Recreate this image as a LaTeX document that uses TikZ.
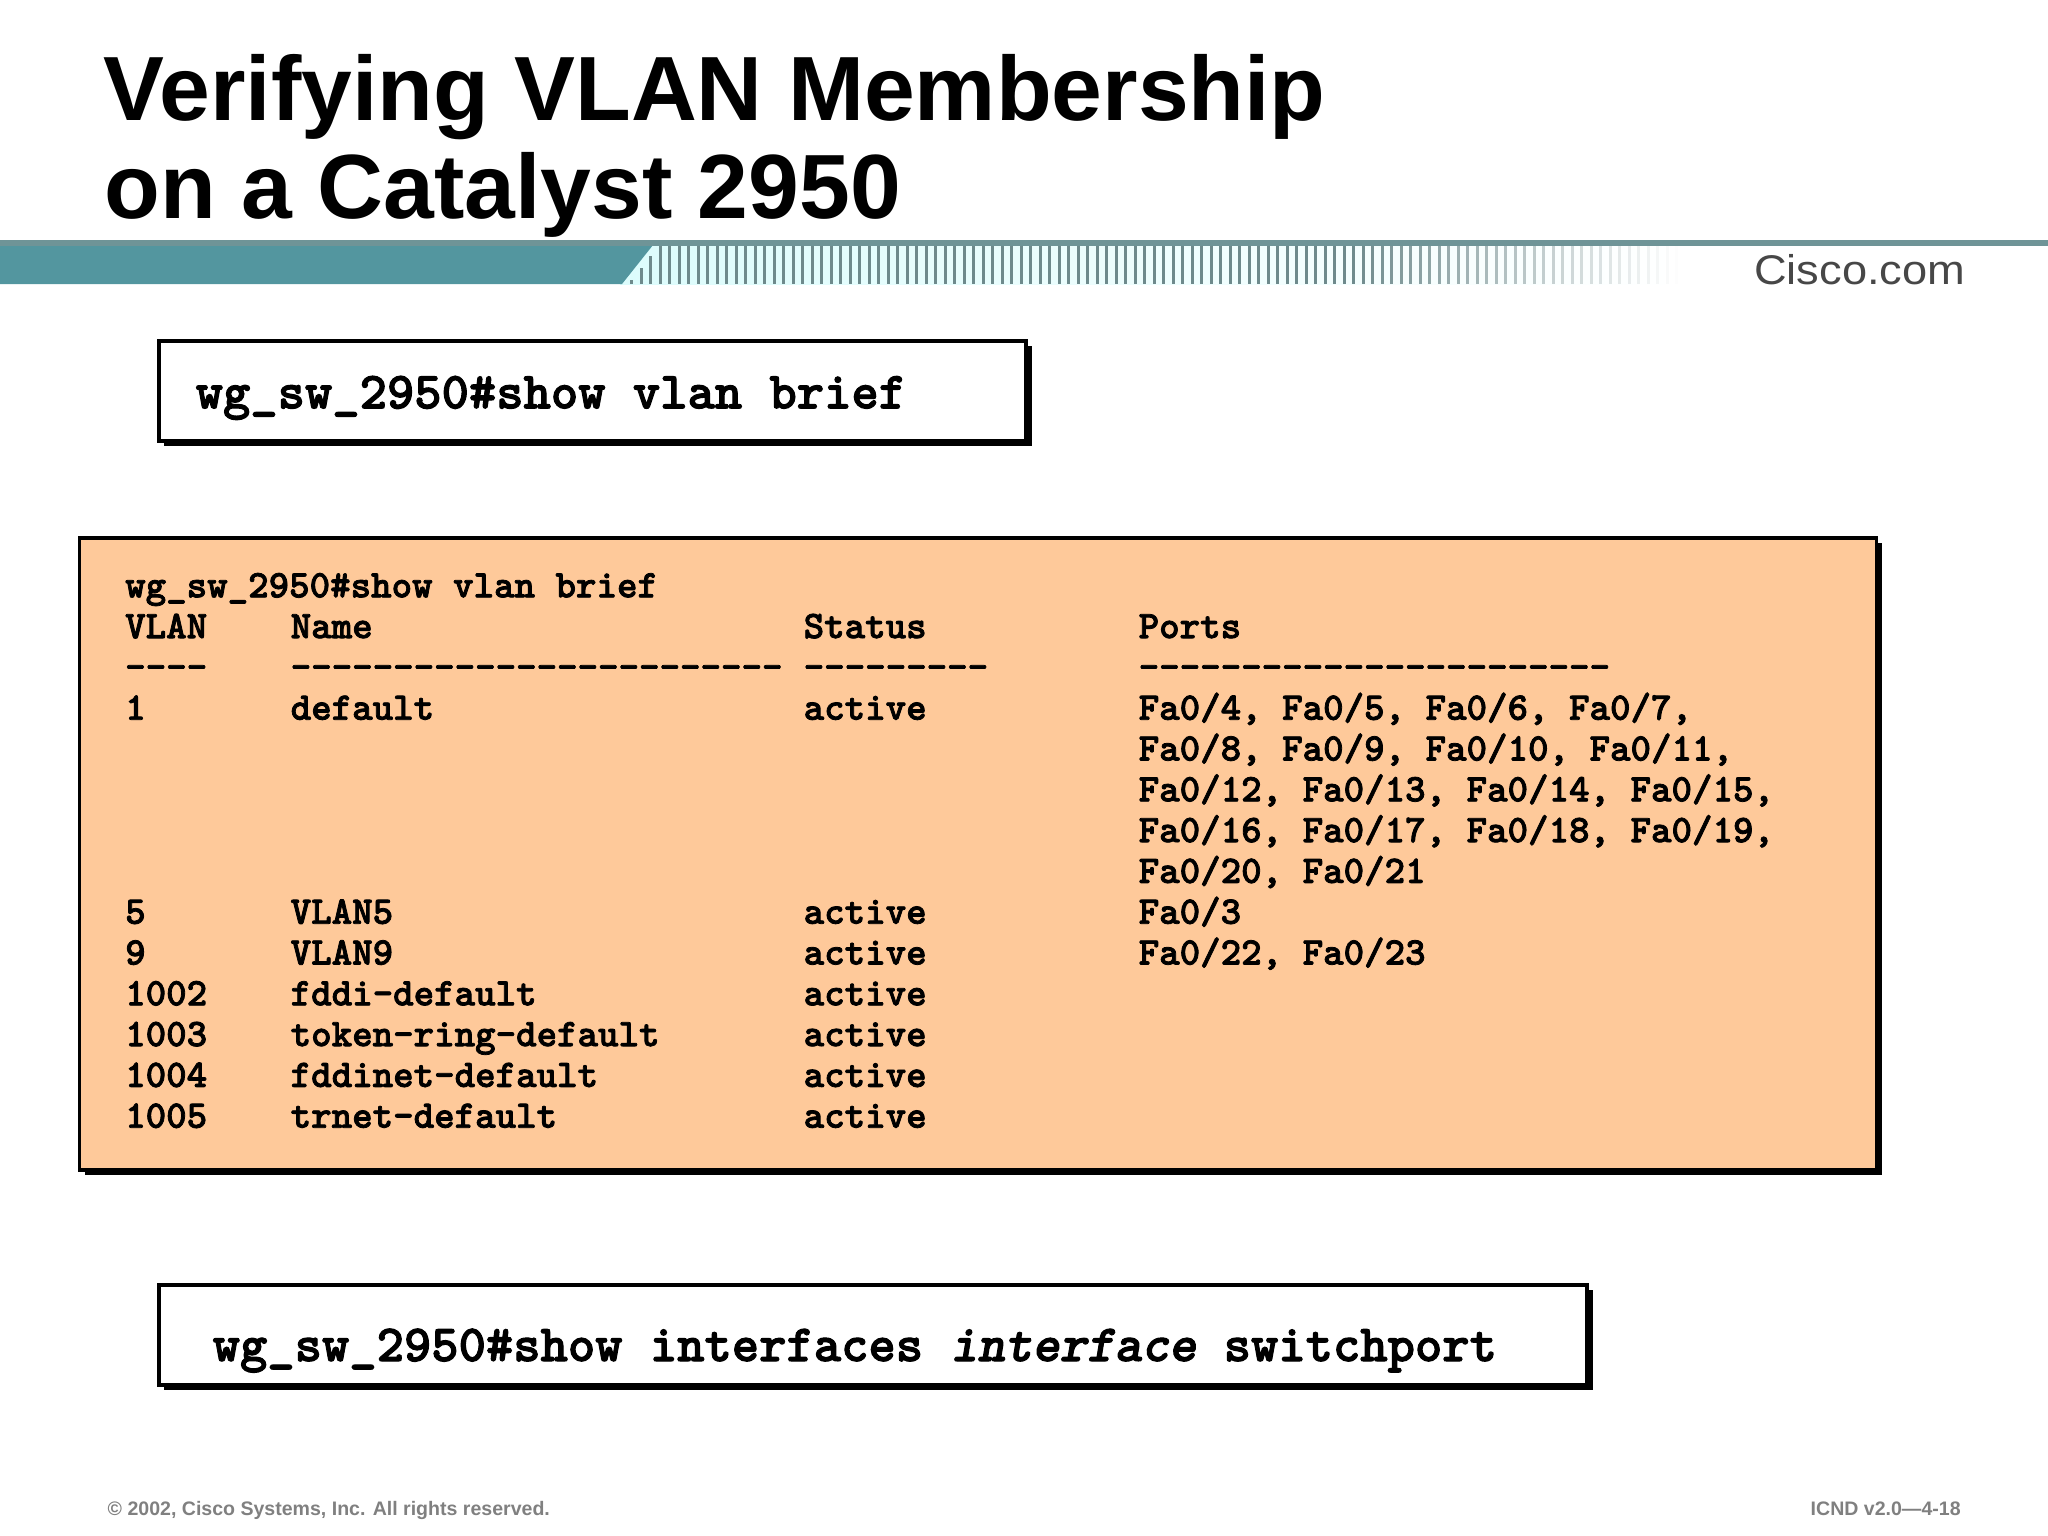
\documentclass[tikz,border=0pt]{standalone}
\usepackage{fontspec}
\setmainfont{Liberation Sans}
\setmonofont[BoldFeatures={FakeBold=2},BoldItalicFeatures={FakeBold=2}]{Latin Modern Mono Light}
\newfontfamily\logofont[FakeStretch=1.09]{Liberation Sans}
\usetikzlibrary{positioning,shadows}
\definecolor{barteal}{HTML}{53969F}
\definecolor{barline}{HTML}{6F9497}
\definecolor{stripegray}{HTML}{6E8A8C}
\definecolor{barpale}{HTML}{DCFCFC}
\definecolor{tablefill}{HTML}{FEC99A}
\definecolor{footgray}{HTML}{808080}
\tikzset{
  boxed/.style={draw=black,line width=1.1pt,inner sep=0pt,
    drop shadow={opacity=1,fill=black,shadow xshift=1.5pt,shadow yshift=-1.5pt}},
  cmdtext/.style={anchor=base west,inner sep=0pt,font=\fontsize{14.8pt}{17pt}\ttfamily\bfseries},
  cell/.style={anchor=base west,inner sep=0pt,font=\fontsize{11.1pt}{13pt}\ttfamily\bfseries},
  titletext/.style={anchor=base west,inner sep=0pt,font=\fontsize{25.95pt}{30pt}\bfseries},
  foottext/.style={anchor=base west,inner sep=0pt,text=footgray,font=\fontsize{5.56pt}{7pt}\bfseries}
}
\begin{document}
\begin{tikzpicture}[x=0.01cm,y=-0.01cm]
  \useasboundingbox (0,0) rectangle (2048,1536);
  % title
  \node[titletext] (title1) at (103,120) {Verifying VLAN Membership};
  \node[titletext] (title2) at (104,218) {on a Catalyst 2950};
  % banner
  \fill[left color=barpale,right color=white] (620,246) rectangle (1680,284);
  \fill[barteal] (0,240) -- (657,240) -- (622,284) -- (0,284) -- cycle;
  \foreach \x in {630,639.5,...,1680}{
    \pgfmathsetmacro\fadeval{max(0,min(100,(1680-\x)/3.3))}
    \pgfmathsetmacro\toppos{max(246,246+(657-\x)*1.257)}
    \fill[stripegray!\fadeval!white] (\x,\toppos) rectangle (\x+3,284);
  }
  \fill[barline] (0,240) rectangle (2048,246);
  \node[anchor=base east,inner sep=0pt,text=black!72,font=\fontsize{11.8pt}{13pt}\logofont] (logo) at (1966,284) {Cisco.com};
  % command boxes
  \node[boxed,fill=white,minimum width=8.67cm,minimum height=1cm] (cmdone) at (592.5,391) {};
  \node[cmdtext] (cmdonetext) at (195,408.3) {wg\_sw\_2950\#show vlan brief};
  \node[boxed,fill=white,minimum width=14.28cm,minimum height=1cm] (cmdtwo) at (873,1335) {};
  \node[cmdtext] (cmdtwotext) at (212,1361) {wg\_sw\_2950\#show interfaces \textit{interface} switchport};
  % table
  \node[boxed,fill=tablefill,minimum width=17.96cm,minimum height=6.315cm] (output) at (978,854) {};
  \node[cell] (prompt) at (124.5,597.3) {wg\_sw\_2950\#show vlan brief};
  \foreach \rowno/\txt in {1/VLAN,2/----,3/1,8/5,9/9,10/1002,11/1003,12/1004,13/1005}
    \node[cell] (vlan\rowno) at (124.5,597.3+40.8*\rowno) {\txt};
  \foreach \rowno/\txt in {1/Name,2/------------------------,3/default,8/VLAN5,9/VLAN9,10/fddi-default,11/token-ring-default,12/fddinet-default,13/trnet-default}
    \node[cell] (name\rowno) at (290,597.3+40.8*\rowno) {\txt};
  \foreach \rowno/\txt in {1/Status,2/---------,3/active,8/active,9/active,10/active,11/active,12/active,13/active}
    \node[cell] (status\rowno) at (803,597.3+40.8*\rowno) {\txt};
  \foreach \rowno/\txt in {1/Ports,2/-----------------------,
      3/{Fa0/4, Fa0/5, Fa0/6, Fa0/7,},4/{Fa0/8, Fa0/9, Fa0/10, Fa0/11,},
      5/{Fa0/12, Fa0/13, Fa0/14, Fa0/15,},6/{Fa0/16, Fa0/17, Fa0/18, Fa0/19,},
      7/{Fa0/20, Fa0/21},8/{Fa0/3},9/{Fa0/22, Fa0/23}}
    \node[cell] (ports\rowno) at (1138,597.3+40.8*\rowno) {\txt};
  % footer
  \node[foottext] (copyright) at (107,1515) {© 2002, Cisco Systems, Inc. All rights reserved.};
  \node[foottext] (course) at (1810,1515) {ICND v2.0—4-18};
\end{tikzpicture}
\end{document}
